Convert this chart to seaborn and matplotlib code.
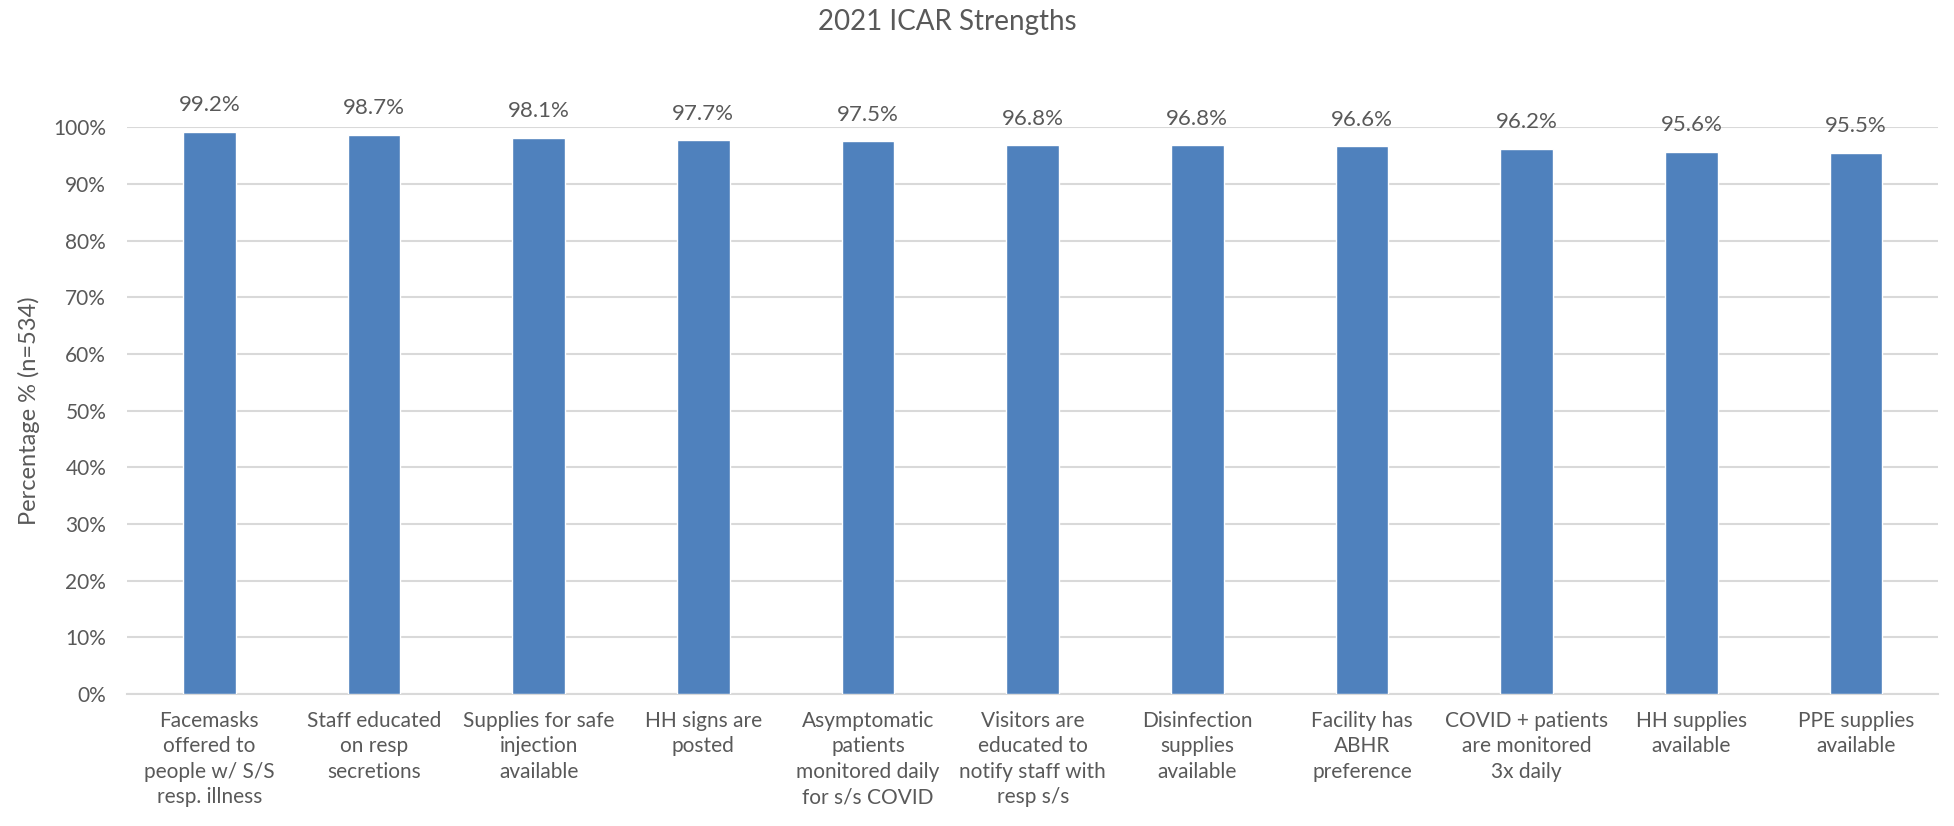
import matplotlib
matplotlib.use("Agg")
import matplotlib.pyplot as plt
import seaborn as sns
import pandas as pd
from matplotlib.ticker import FuncFormatter

categories = [
    "Facemasks\noffered to\npeople w/ S/S\nresp. illness",
    "Staff educated\non resp\nsecretions",
    "Supplies for safe\ninjection\navailable",
    "HH signs are\nposted",
    "Asymptomatic\npatients\nmonitored daily\nfor s/s COVID",
    "Visitors are\neducated to\nnotify staff with\nresp s/s",
    "Disinfection\nsupplies\navailable",
    "Facility has\nABHR\npreference",
    "COVID + patients\nare monitored\n3x daily",
    "HH supplies\navailable",
    "PPE supplies\navailable",
]
values = [99.2, 98.7, 98.1, 97.7, 97.5, 96.8, 96.8, 96.6, 96.2, 95.6, 95.5]
y_ticks = [0, 10, 20, 30, 40, 50, 60, 70, 80, 90, 100]

sns.set_theme(style="white")
plt.rcParams['font.family'] = ['Lato', 'DejaVu Sans']
text_color = "#595959"

df = pd.DataFrame({"cat": categories, "val": values})

fig = plt.figure(figsize=(19.54, 8.26), dpi=100)
ax = fig.add_axes([0.065, 0.160, 0.927, 0.686])

sns.barplot(data=df, x="cat", y="val", color="#4F81BD", saturation=1,
            width=0.32, ax=ax, zorder=3)

ax.set_ylim(0, 100)
ax.set_yticks(y_ticks)
ax.yaxis.set_major_formatter(FuncFormatter(lambda v, p: f"{int(v)}%"))
ax.grid(axis="y", color="#D9D9D9", linewidth=1.5, zorder=0)
ax.set_axisbelow(True)
for s in ["top", "right", "left"]:
    ax.spines[s].set_visible(False)
ax.spines["bottom"].set_color("#D9D9D9")
ax.spines["bottom"].set_linewidth(1.5)
ax.tick_params(axis="both", length=0, colors=text_color, labelsize=15)
ax.tick_params(axis="y", pad=15)
ax.tick_params(axis="x", pad=12)
for lbl in ax.get_xticklabels():
    lbl.set_fontsize(15)
    lbl.set_linespacing(1.35)
ax.set_xlabel("")
ax.set_ylabel("Percentage % (n=534)", fontsize=17, color=text_color)
ax.yaxis.set_label_coords(-0.048, 0.5)

for c in ax.containers:
    ax.bar_label(c, labels=[f"{v:.1f}%" for v in values], padding=12,
                 fontsize=16, color=text_color)

fig.text(0.485, 0.973, "2021 ICAR Strengths", ha="center", va="center",
         fontsize=20, color=text_color)

fig.savefig("out.png", dpi=100)
